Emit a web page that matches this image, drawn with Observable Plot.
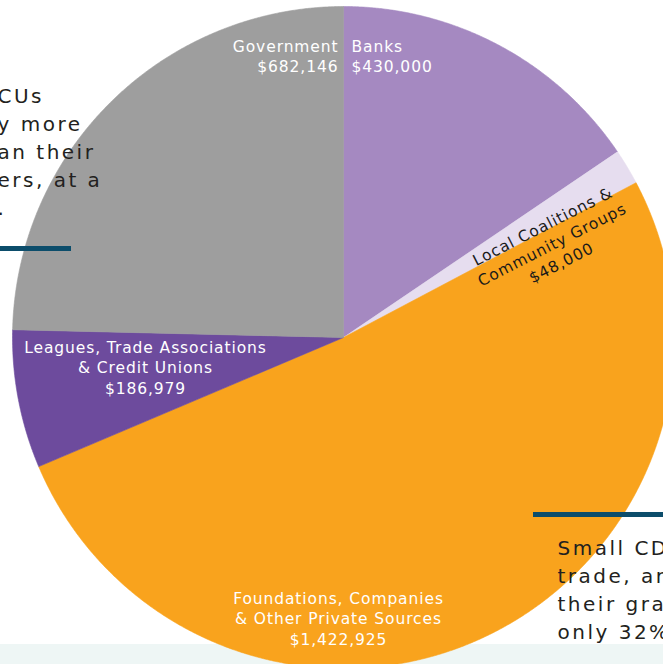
<!DOCTYPE html>
<html><head><meta charset="utf-8">
<script src="https://cdn.jsdelivr.net/npm/d3@7"></script>
<script src="https://cdn.jsdelivr.net/npm/@observablehq/plot@0.6"></script>
<style>
html,body{margin:0;padding:0;background:#fff;overflow:hidden;}
g[aria-description="slice-label"] text{letter-spacing:0.9px;}
g[aria-description="note"] text{letter-spacing:2.5px;}
</style>
</head><body><div id="chart"></div>
<script>
// ---- data ----
const categories = ["Banks", "Local Coalitions & Community Groups", "Foundations, Companies & Other Private Sources", "Leagues, Trade Associations & Credit Unions", "Government"];
const values = [430000, 48000, 1422925, 186979, 682146];
const labelNames = ["Banks", "Local Coalitions &\nCommunity Groups", "Foundations, Companies\n& Other Private Sources", "Leagues, Trade Associations\n& Credit Unions", "Government"];
const colors = ["#a589c1", "#e6ddef", "#f9a31d", "#6d4b9d", "#9e9e9e"];
const noteLeft = ["CUs", "y more", "an their", "ers, at a", "."];
const noteRight = ["Small CD", "trade, ar", "their gra", "only 32%"];

// ---- layout (pixels) ----
const W = 663, H = 664, CX = 343, CY = 337, R = 331;
const X = px => (px - CX) / R;
const Y = py => (CY - py) / R;
const labelLayout = [
  {px: 351, py: 55, anchor: "start", rotate: 0, color: "#ffffff"},
  {px: 551, py: 243, anchor: "middle", rotate: -27, color: "#1a1a1a"},
  {px: 338, py: 617, anchor: "middle", rotate: 0, color: "#ffffff"},
  {px: 145, py: 366, anchor: "middle", rotate: 0, color: "#ffffff"},
  {px: 338, py: 55, anchor: "end", rotate: 0, color: "#ffffff"}
];

// ---- slices from values ----
const table = categories.map((c, i) => ({cat: c, value: values[i], name: labelNames[i]}));
const arcs = d3.pie().sort(null).value(d => d.value).startAngle(0).endAngle(2 * Math.PI)(table);
const pts = [];
for (const a of arcs) {
  pts.push({cat: a.data.cat, x: 0, y: 0});
  const n = Math.max(2, Math.ceil((a.endAngle - a.startAngle) / (Math.PI / 720)));
  for (let k = 0; k <= n; k++) {
    const t = a.startAngle + (a.endAngle - a.startAngle) * k / n;
    pts.push({cat: a.data.cat, x: Math.sin(t), y: Math.cos(t)});
  }
  pts.push({cat: a.data.cat, x: 0, y: 0});
}

const fmt = d3.format("$,");
const font = "DejaVu Sans";
const labelMarks = table.map((d, i) => {
  const L = labelLayout[i];
  return Plot.text([d], {
    x: () => X(L.px), y: () => Y(L.py),
    text: d => d.name + "\n" + fmt(d.value),
    textAnchor: L.anchor, lineAnchor: "middle", rotate: L.rotate,
    fill: L.color, fontSize: 15.5, lineHeight: 1.32, fontFamily: font,
    ariaDescription: "slice-label"
  });
});

const xDomain = [X(0), X(W)];
const yDomain = [Y(H), Y(0)];

const chart = Plot.plot({
  width: W, height: H,
  margin: 0, marginTop: 0, marginRight: 0, marginBottom: 0, marginLeft: 0,
  x: {domain: xDomain, axis: null},
  y: {domain: yDomain, axis: null},
  color: {domain: categories, range: colors},
  style: {background: "#ffffff"},
  marks: [
    Plot.rect([0], {x1: () => xDomain[0], x2: () => xDomain[1], y1: () => yDomain[0], y2: () => Y(644), fill: "#eef6f5"}),
    Plot.line(pts, {x: "x", y: "y", z: "cat", fill: "cat", stroke: "cat", strokeWidth: 0.6, curve: "linear"}),
    ...labelMarks,
    Plot.ruleY([0], {y: () => Y(248), x1: () => X(-2), x2: () => X(71), stroke: "#0c4d6b", strokeWidth: 5}),
    Plot.ruleY([0], {y: () => Y(514), x1: () => X(533), x2: () => X(665), stroke: "#0c4d6b", strokeWidth: 5}),
    Plot.text([noteLeft.join("\n")], {x: () => X(-3), y: () => Y(150), text: d => d, textAnchor: "start", lineAnchor: "middle", lineHeight: 1.4, fontSize: 20, fill: "#231f20", fontFamily: font, ariaDescription: "note"}),
    Plot.text([noteRight.join("\n")], {x: () => X(557), y: () => Y(588), text: d => d, textAnchor: "start", lineAnchor: "middle", lineHeight: 1.4, fontSize: 20, fill: "#231f20", fontFamily: font, ariaDescription: "note"})
  ]
});
document.getElementById("chart").appendChild(chart);
</script>
</body></html>
